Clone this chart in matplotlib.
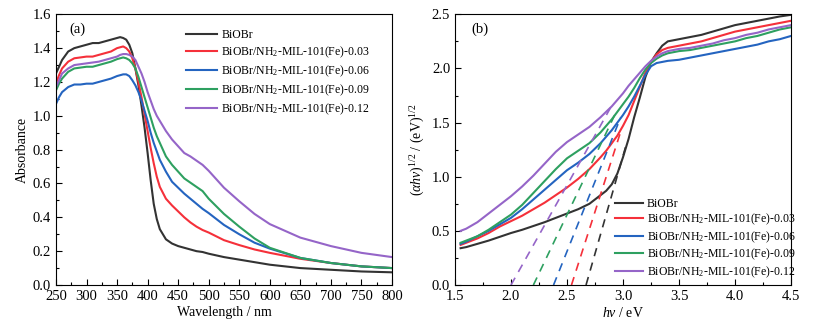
import matplotlib
matplotlib.use('Agg')
import matplotlib.pyplot as plt
from matplotlib.ticker import MultipleLocator

plt.rcParams['font.family'] = ['Liberation Serif', 'DejaVu Serif']
plt.rcParams['mathtext.fontset'] = 'custom'
plt.rcParams['mathtext.rm'] = 'Liberation Serif'
plt.rcParams['mathtext.it'] = 'Liberation Serif:italic'

labels = ['BiOBr',
          'BiOBr/NH$_2$-MIL-101(Fe)-0.03',
          'BiOBr/NH$_2$-MIL-101(Fe)-0.06',
          'BiOBr/NH$_2$-MIL-101(Fe)-0.09',
          'BiOBr/NH$_2$-MIL-101(Fe)-0.12']
colors = ['#333333', '#f5303a', '#2464c0', '#2ea060', '#9565c8']

# (a) UV-vis absorbance
wavelength = [250, 255, 260, 270, 280, 290, 300, 310, 320, 330, 340, 350, 355, 360,
              365, 370, 375, 380, 385, 390, 395, 400, 405, 410, 415, 420, 430, 440,
              450, 460, 470, 480, 490, 500, 525, 550, 575, 600, 650, 700, 750, 800]
abs_biobr = [1.25, 1.29, 1.33, 1.38, 1.40, 1.41, 1.42, 1.43, 1.43, 1.44, 1.45, 1.46, 1.465, 1.46,
             1.45, 1.42, 1.37, 1.28, 1.18, 1.06, 0.93, 0.78, 0.62, 0.48, 0.39, 0.33, 0.27, 0.245,
             0.23, 0.22, 0.21, 0.20, 0.195, 0.185, 0.165, 0.15, 0.135, 0.12, 0.10, 0.09, 0.08, 0.075]
abs_003 = [1.19, 1.24, 1.28, 1.32, 1.34, 1.345, 1.35, 1.35, 1.36, 1.37, 1.38, 1.40, 1.405, 1.41,
           1.40, 1.38, 1.34, 1.28, 1.20, 1.11, 1.01, 0.91, 0.81, 0.72, 0.64, 0.58, 0.51, 0.47,
           0.435, 0.40, 0.37, 0.345, 0.325, 0.31, 0.265, 0.236, 0.21, 0.19, 0.155, 0.13, 0.11, 0.10]
abs_006 = [1.07, 1.11, 1.14, 1.17, 1.185, 1.185, 1.19, 1.19, 1.20, 1.21, 1.22, 1.235, 1.24, 1.245,
           1.245, 1.235, 1.21, 1.18, 1.14, 1.09, 1.03, 0.97, 0.90, 0.84, 0.79, 0.74, 0.67, 0.61,
           0.575, 0.54, 0.51, 0.48, 0.45, 0.425, 0.355, 0.30, 0.25, 0.215, 0.16, 0.13, 0.11, 0.10]
abs_009 = [1.15, 1.19, 1.22, 1.26, 1.28, 1.285, 1.29, 1.29, 1.30, 1.31, 1.32, 1.335, 1.34, 1.345,
           1.34, 1.33, 1.31, 1.28, 1.23, 1.17, 1.11, 1.05, 0.99, 0.93, 0.88, 0.84, 0.76, 0.71,
           0.67, 0.63, 0.605, 0.58, 0.555, 0.51, 0.42, 0.345, 0.275, 0.22, 0.16, 0.13, 0.11, 0.10]
abs_012 = [1.17, 1.21, 1.25, 1.28, 1.30, 1.305, 1.31, 1.315, 1.32, 1.33, 1.34, 1.35, 1.36, 1.365,
           1.365, 1.36, 1.35, 1.33, 1.29, 1.25, 1.20, 1.14, 1.09, 1.04, 1.00, 0.97, 0.91, 0.86,
           0.82, 0.78, 0.76, 0.735, 0.71, 0.675, 0.575, 0.495, 0.42, 0.36, 0.28, 0.23, 0.19, 0.165]

# (b) Tauc plot
hv = [1.55, 1.6, 1.7, 1.8, 1.9, 2.0, 2.1, 2.2, 2.3, 2.4, 2.5, 2.6, 2.7, 2.8, 2.85, 2.9, 2.95,
      3.0, 3.05, 3.1, 3.15, 3.2, 3.25, 3.3, 3.35, 3.4, 3.5, 3.6, 3.7, 3.8, 3.9, 4.0, 4.1,
      4.2, 4.3, 4.4, 4.5]
tauc_biobr = [0.34, 0.35, 0.38, 0.41, 0.445, 0.48, 0.51, 0.545, 0.58, 0.62, 0.66, 0.70, 0.75,
              0.83, 0.87, 0.93, 1.03, 1.18, 1.35, 1.55, 1.73, 1.92, 2.06, 2.14, 2.21, 2.25,
              2.27, 2.29, 2.31, 2.34, 2.37, 2.40, 2.42, 2.44, 2.46, 2.48, 2.495]
tauc_003 = [0.37, 0.39, 0.43, 0.48, 0.54, 0.59, 0.64, 0.70, 0.76, 0.83, 0.90, 0.98, 1.07,
            1.18, 1.24, 1.31, 1.38, 1.47, 1.57, 1.70, 1.83, 1.96, 2.06, 2.13, 2.17, 2.19,
            2.21, 2.23, 2.25, 2.28, 2.31, 2.34, 2.36, 2.38, 2.40, 2.42, 2.44]
tauc_006 = [0.38, 0.40, 0.45, 0.50, 0.56, 0.62, 0.70, 0.79, 0.88, 0.97, 1.06, 1.13, 1.21,
            1.31, 1.37, 1.43, 1.50, 1.57, 1.65, 1.74, 1.84, 1.94, 2.02, 2.05, 2.06, 2.07,
            2.08, 2.10, 2.12, 2.14, 2.16, 2.18, 2.20, 2.22, 2.25, 2.27, 2.30]
tauc_009 = [0.39, 0.41, 0.45, 0.51, 0.58, 0.65, 0.74, 0.85, 0.96, 1.07, 1.17, 1.24, 1.31,
            1.41, 1.47, 1.53, 1.60, 1.67, 1.74, 1.82, 1.91, 1.99, 2.05, 2.09, 2.12, 2.14,
            2.16, 2.17, 2.19, 2.21, 2.23, 2.25, 2.28, 2.30, 2.33, 2.36, 2.38]
tauc_012 = [0.50, 0.52, 0.58, 0.66, 0.74, 0.82, 0.91, 1.01, 1.12, 1.23, 1.32, 1.39, 1.46,
            1.55, 1.60, 1.65, 1.71, 1.77, 1.84, 1.90, 1.96, 2.02, 2.07, 2.11, 2.14, 2.16,
            2.18, 2.19, 2.21, 2.23, 2.26, 2.28, 2.31, 2.33, 2.36, 2.38, 2.40]

# band-gap extrapolation lines: x-intercept and upper end point
gap_eg = [2.67, 2.54, 2.38, 2.20, 2.00]
gap_top_x = [3.03, 2.99, 2.98, 2.94, 2.89]
gap_top_y = [1.30, 1.45, 1.55, 1.60, 1.64]

fig = plt.figure(figsize=(8.17, 3.34), dpi=100)
ax1 = fig.add_axes([0.0685, 0.1467, 0.4113, 0.8105])
ax2 = fig.add_axes([0.5569, 0.1467, 0.4113, 0.8105])

for y, c, lab in zip([abs_biobr, abs_003, abs_006, abs_009, abs_012], colors, labels):
    ax1.plot(wavelength, y, color=c, lw=1.5, label=lab)

for y, c, lab in zip([tauc_biobr, tauc_003, tauc_006, tauc_009, tauc_012], colors, labels):
    ax2.plot(hv, y, color=c, lw=1.5, label=lab)

for eg, tx, ty, c in zip(gap_eg, gap_top_x, gap_top_y, colors):
    ax2.plot([eg, tx], [0, ty], color=c, lw=1.2, ls=(0, (5, 4)))

ax1.set_xlim(250, 800)
ax1.set_ylim(0, 1.6)
ax1.xaxis.set_major_locator(MultipleLocator(50))
ax1.xaxis.set_minor_locator(MultipleLocator(25))
ax1.yaxis.set_major_locator(MultipleLocator(0.2))
ax1.yaxis.set_minor_locator(MultipleLocator(0.1))
ax1.set_xlabel('Wavelength / nm', fontsize=10, labelpad=2)
ax1.set_ylabel('Absorbance', fontsize=10, labelpad=3)
ax1.text(0.065, 0.945, '(a)', transform=ax1.transAxes, fontsize=10.5, va='center', ha='center')
ax1.legend(loc='upper left', bbox_to_anchor=(0.355, 0.985), frameon=False, fontsize=8.5,
           handlelength=2.6, handletextpad=0.4, labelspacing=0.3)

ax2.set_xlim(1.5, 4.5)
ax2.set_ylim(0, 2.5)
ax2.xaxis.set_major_locator(MultipleLocator(0.5))
ax2.xaxis.set_minor_locator(MultipleLocator(0.25))
ax2.yaxis.set_major_locator(MultipleLocator(0.5))
ax2.yaxis.set_minor_locator(MultipleLocator(0.25))
ax2.set_xlabel(r'$h\nu$ / eV', fontsize=10, labelpad=2)
ax2.set_ylabel(r'$(\alpha h\nu)^{1/2}$ / (eV)$^{1/2}$', fontsize=10, labelpad=3)
ax2.text(0.074, 0.945, '(b)', transform=ax2.transAxes, fontsize=10.5, va='center', ha='center')
ax2.legend(loc='lower left', bbox_to_anchor=(0.445, -0.02), frameon=False, fontsize=8.5,
           handlelength=2.4, handletextpad=0.3, labelspacing=0.18)

for ax in (ax1, ax2):
    ax.tick_params(which='both', direction='in', labelsize=10.5, top=False, right=False)
    ax.tick_params(which='major', length=4, width=0.8)
    ax.tick_params(which='minor', length=2.5, width=0.8)
    for s in ax.spines.values():
        s.set_linewidth(0.8)

fig.savefig('out.png', dpi=100)
